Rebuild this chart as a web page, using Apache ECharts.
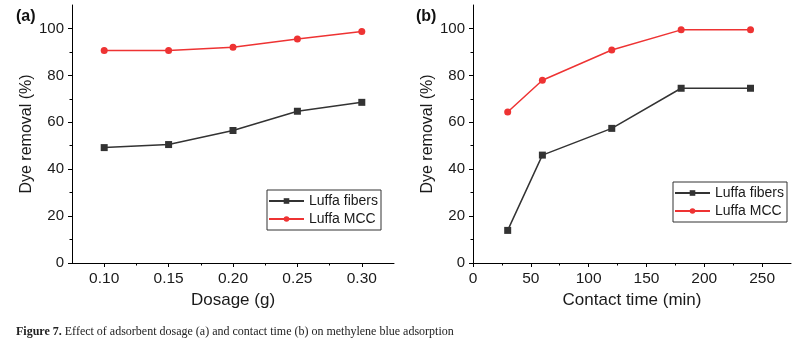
<!DOCTYPE html>
<html>
<head>
<meta charset="utf-8">
<script src="https://cdn.jsdelivr.net/npm/echarts@6/dist/echarts.min.js"></script>
<style>
html,body{margin:0;padding:0;background:#fff;}
#c{width:798px;height:350px;}
</style>
</head>
<body>
<div id="c"></div>
<script>
// ---- data ----
const dosage = [0.10, 0.15, 0.20, 0.25, 0.30];
const fibersDosage = [49.2, 50.5, 56.5, 64.7, 68.5];
const mccDosage = [90.6, 90.6, 92.0, 95.5, 98.7];
const contactTime = [30, 60, 120, 180, 240];
const fibersTime = [13.9, 46.0, 57.4, 74.5, 74.5];
const mccTime = [64.4, 77.9, 90.8, 99.4, 99.4];
const dosageTicks = [0.10, 0.15, 0.20, 0.25, 0.30];
const dosageMinor = [0.125, 0.175, 0.225, 0.275];
const timeTicks = [0, 50, 100, 150, 200, 250];
const timeMinor = [25, 75, 125, 175, 225];
const yTicks = [0, 20, 40, 60, 80, 100];
const yMinor = [10, 30, 50, 70, 90];
const seriesNames = ['Luffa fibers', 'Luffa MCC'];
const caption = ['Figure 7.', ' Effect of adsorbent dosage (a) and contact time (b) on methylene blue adsorption'];

const FONT = "'Liberation Sans', Arial, sans-serif";
const SERIF = "'Liberation Serif', 'Times New Roman', serif";
const AX = '#000';
const TXT = '#1a1a1a';
const BLACK = '#333333';
const RED = '#ee3333';

const chart = echarts.init(document.getElementById('c'), null, {renderer: 'canvas'});

function pairs(xs, ys) { return xs.map((x, i) => [x, ys[i]]); }

function mainX(gi, min, max, name, ticks, fmt) {
  return {
    type: 'value', gridIndex: gi, min: min, max: max,
    name: name, nameLocation: 'middle', nameGap: 29,
    nameTextStyle: {fontFamily: FONT, fontSize: 17, color: TXT},
    axisLine: {show: true, onZero: false, lineStyle: {color: AX, width: 1}},
    axisTick: {show: true, inside: false, length: 4, customValues: ticks, lineStyle: {color: AX}},
    axisLabel: {show: true, customValues: ticks, margin: 8, fontFamily: FONT, fontSize: 15.5, color: TXT, formatter: fmt},
    splitLine: {show: false}
  };
}
function minorX(gi, min, max, ticks) {
  return {
    type: 'value', gridIndex: gi, min: min, max: max, position: 'bottom',
    axisLine: {show: false, onZero: false},
    axisTick: {show: true, inside: false, length: 2.5, customValues: ticks, lineStyle: {color: AX}},
    axisLabel: {show: false},
    splitLine: {show: false}
  };
}
function mainY(gi) {
  return {
    type: 'value', gridIndex: gi, min: 0, max: 110,
    name: 'Dye removal (%)', nameLocation: 'middle', nameGap: 37,
    nameTextStyle: {fontFamily: FONT, fontSize: 16, color: TXT},
    axisLine: {show: true, onZero: false, lineStyle: {color: AX, width: 1}},
    axisTick: {show: true, inside: false, length: 4, customValues: yTicks, lineStyle: {color: AX}},
    axisLabel: {show: true, customValues: yTicks, margin: 8, fontFamily: FONT, fontSize: 15, color: TXT},
    splitLine: {show: false}
  };
}
function minorY(gi) {
  return {
    type: 'value', gridIndex: gi, min: 0, max: 110, position: 'left',
    axisLine: {show: false, onZero: false},
    axisTick: {show: true, inside: false, length: 2.5, customValues: yMinor, lineStyle: {color: AX}},
    axisLabel: {show: false},
    splitLine: {show: false}
  };
}
function lineSeries(name, xi, yi, data, sym, color) {
  return {
    type: 'line', name: name, xAxisIndex: xi, yAxisIndex: yi, data: data,
    symbol: sym, symbolSize: 7, showSymbol: true,
    lineStyle: {color: color, width: 1.5},
    itemStyle: {color: color, borderWidth: 0},
    emphasis: {disabled: true},
    animation: false, z: sym === 'circle' ? 3 : 4
  };
}
function legend(left, top) {
  return {
    orient: 'vertical', left: left, top: top,
    data: seriesNames,
    itemWidth: 35, itemHeight: 7, itemGap: 4,
    padding: [4, 3, 4, 1],
    borderColor: '#333', borderWidth: 1, borderRadius: 0,
    backgroundColor: '#fff',
    textStyle: {fontFamily: FONT, fontSize: 14, color: TXT},
    selectedMode: false
  };
}

const option = {
  animation: false,
  backgroundColor: '#fff',
  grid: [
    {left: 72, top: 5, width: 322, height: 258, containLabel: false},
    {left: 473, top: 5, width: 318, height: 258, containLabel: false}
  ],
  xAxis: [
    mainX(0, 0.075, 0.325, 'Dosage (g)', dosageTicks, v => v.toFixed(2)),
    mainX(1, 0, 275, 'Contact time (min)', timeTicks, v => String(v)),
    minorX(0, 0.075, 0.325, dosageMinor),
    minorX(1, 0, 275, timeMinor)
  ],
  yAxis: [mainY(0), mainY(1), minorY(0), minorY(1)],
  legend: [legend(267, 190), legend(673, 182)],
  series: [
    lineSeries(seriesNames[0], 0, 0, pairs(dosage, fibersDosage), 'rect', BLACK),
    lineSeries(seriesNames[1], 0, 0, pairs(dosage, mccDosage), 'circle', RED),
    lineSeries(seriesNames[0], 1, 1, pairs(contactTime, fibersTime), 'rect', BLACK),
    lineSeries(seriesNames[1], 1, 1, pairs(contactTime, mccTime), 'circle', RED)
  ],
  graphic: [
    {type: 'text', left: 16, top: 9, style: {text: '(a)', fontFamily: FONT, fontSize: 16, fontWeight: 'bold', fill: '#111'}},
    {type: 'text', left: 416, top: 9, style: {text: '(b)', fontFamily: FONT, fontSize: 16, fontWeight: 'bold', fill: '#111'}},
    {type: 'text', left: 16, top: 326, style: {
      text: '{b|' + caption[0] + '}{n|' + caption[1] + '}',
      rich: {
        b: {fontFamily: SERIF, fontSize: 12, fontWeight: 'bold', fill: '#222'},
        n: {fontFamily: SERIF, fontSize: 12, fill: '#222'}
      }
    }}
  ]
};
chart.setOption(option);
</script>
</body>
</html>
